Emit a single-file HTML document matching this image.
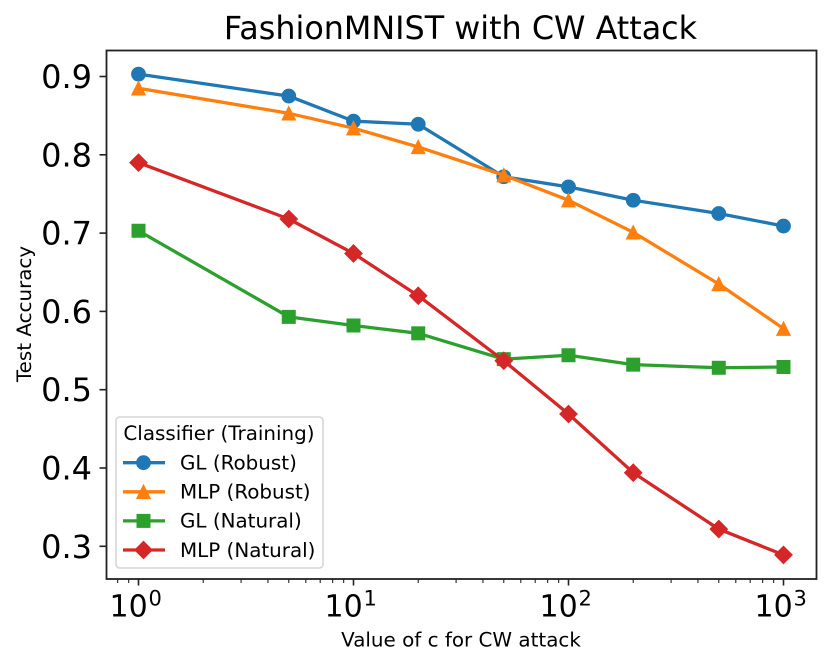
<!DOCTYPE html>
<html>
<head>
<meta charset="utf-8">
<style>
html,body{margin:0;padding:0;background:#fff;}
svg{display:block;font-family:"DejaVu Sans","Liberation Sans",sans-serif;filter:blur(0.35px);}
</style>
</head>
<body>
<svg id="chart" xmlns="http://www.w3.org/2000/svg" width="830" height="666" viewBox="0 0 830 666">
  <rect x="0" y="0" width="830" height="666" fill="#fff"/>
  <text x="460.5" y="39" font-size="31.8" text-anchor="middle" fill="#000">FashionMNIST with CW Attack</text>
  <text x="31" y="314" font-size="19.9" text-anchor="middle" fill="#000" transform="rotate(-90 31 314)">Test Accuracy</text>
  <text x="461" y="646.5" font-size="19.9" text-anchor="middle" fill="#000">Value of c for CW attack</text>
  <g id="ticks"></g>
  <g id="series"></g>
  <rect x="106.5" y="50.5" width="710" height="528.5" fill="none" stroke="#222" stroke-width="1.8"/>
  <g id="legend">
    <rect x="116" y="417" width="207" height="151" rx="3.5" fill="#fff" fill-opacity="0.85" stroke="#d6d6d6" stroke-width="1.6"/>
    <text x="219" y="440" font-size="19.9" text-anchor="middle" fill="#000">Classifier (Training)</text>
  </g>
</svg>
<script>
var cValues = [1, 5, 10, 20, 50, 100, 200, 500, 1000];
var glRobust = [0.903, 0.875, 0.843, 0.839, 0.772, 0.759, 0.742, 0.725, 0.709];
var mlpRobust = [0.885, 0.853, 0.834, 0.810, 0.774, 0.742, 0.701, 0.635, 0.578];
var glNatural = [0.703, 0.593, 0.582, 0.572, 0.539, 0.544, 0.532, 0.528, 0.529];
var mlpNatural = [0.790, 0.718, 0.674, 0.620, 0.537, 0.469, 0.394, 0.322, 0.289];
var yTickLabels = ["0.3", "0.4", "0.5", "0.6", "0.7", "0.8", "0.9"];
var xTickExponents = [0, 1, 2, 3];
var xMinorValues = [0.8, 0.9, 2, 3, 4, 5, 6, 7, 8, 9, 20, 30, 40, 50, 60, 70, 80, 90, 200, 300, 400, 500, 600, 700, 800, 900];
var seriesNames = ["GL (Robust)", "MLP (Robust)", "GL (Natural)", "MLP (Natural)"];

var NS = "http://www.w3.org/2000/svg";
function xScale(v) { return 138.5 + 215 * Math.log10(v); }
function yScale(v) { return 76.5 + (0.9 - v) * 783; }
function make(tag, attrs, parent) {
  var el = document.createElementNS(NS, tag);
  for (var k in attrs) { el.setAttribute(k, attrs[k]); }
  parent.appendChild(el);
  return el;
}
function drawMarker(kind, cx, cy, color, parent) {
  var el;
  if (kind === "circle") {
    el = make("circle", { cx: cx, cy: cy, r: 7.4, fill: color }, parent);
  } else if (kind === "triangle") {
    el = make("polygon", { points: (cx) + "," + (cy - 8) + " " + (cx + 7.6) + "," + (cy + 7.2) + " " + (cx - 7.6) + "," + (cy + 7.2), fill: color }, parent);
  } else if (kind === "square") {
    el = make("rect", { x: cx - 7, y: cy - 7, width: 14, height: 14, fill: color }, parent);
  } else {
    el = make("polygon", { points: cx + "," + (cy - 9.4) + " " + (cx + 9.4) + "," + cy + " " + cx + "," + (cy + 9.4) + " " + (cx - 9.4) + "," + cy, fill: color }, parent);
  }
  return el;
}

var tickLayer = document.getElementById("ticks");
yTickLabels.forEach(function (label) {
  var y = yScale(parseFloat(label));
  var t = make("line", { x1: 99.5, x2: 106, y1: y, y2: y, stroke: "#222", "stroke-width": 1.6 }, tickLayer);
  
  
  var txt = make("text", { x: 92, y: y + 11.5, "font-size": 32, "text-anchor": "end", fill: "#000" }, tickLayer);
  txt.textContent = label;
  
  
});
xTickExponents.forEach(function (exp) {
  var x = xScale(Math.pow(10, exp));
  var t = make("line", { x1: x, x2: x, y1: 579, y2: 585.5, stroke: "#222", "stroke-width": 1.6 }, tickLayer);
  
  
  var txt = make("text", { x: x - 29, y: 616.5, "font-size": 30, fill: "#000" }, tickLayer);
  txt.textContent = "10";
  
  
  var sup = make("text", { x: x + 10, y: 605.5, "font-size": 21, fill: "#000" }, tickLayer);
  sup.textContent = String(exp);
  
  
});
xMinorValues.forEach(function (v) {
  var x = xScale(v);
  var t = make("line", { x1: x, x2: x, y1: 579, y2: 583, stroke: "#222", "stroke-width": 1.1 }, tickLayer);
  
  
});

var seriesDefs = [
  { values: glRobust, color: "#1f77b4", marker: "circle" },
  { values: mlpRobust, color: "#ff7f0e", marker: "triangle" },
  { values: glNatural, color: "#2ca02c", marker: "square" },
  { values: mlpNatural, color: "#d62728", marker: "diamond" }
];
var seriesLayer = document.getElementById("series");
var legendLayer = document.getElementById("legend");
seriesDefs.forEach(function (s, i) {
  var g = make("g", {}, seriesLayer);
  
  
  var pts = s.values.map(function (v, j) { return xScale(cValues[j]) + "," + yScale(v); }).join(" ");
  var line = make("polyline", { points: pts, fill: "none", stroke: s.color, "stroke-width": 3.3, "stroke-linejoin": "round", "stroke-linecap": "square" }, g);
  
  
  s.values.forEach(function (v, j) {
    var m = drawMarker(s.marker, xScale(cValues[j]), yScale(v), s.color, g);
    
    
  });

  var rowY = 462.7 + i * 29.1;
  var entry = make("g", {}, legendLayer);
  
  
  var ll = make("line", { x1: 123, x2: 165, y1: rowY, y2: rowY, stroke: s.color, "stroke-width": 3.3 }, entry);
  
  
  var lm = drawMarker(s.marker, 143.5, rowY, s.color, entry);
  
  
  var lt = make("text", { x: 180, y: rowY + 6.8, "font-size": 19.9, fill: "#000" }, entry);
  lt.textContent = seriesNames[i];
  
  
});
</script>
</body>
</html>
